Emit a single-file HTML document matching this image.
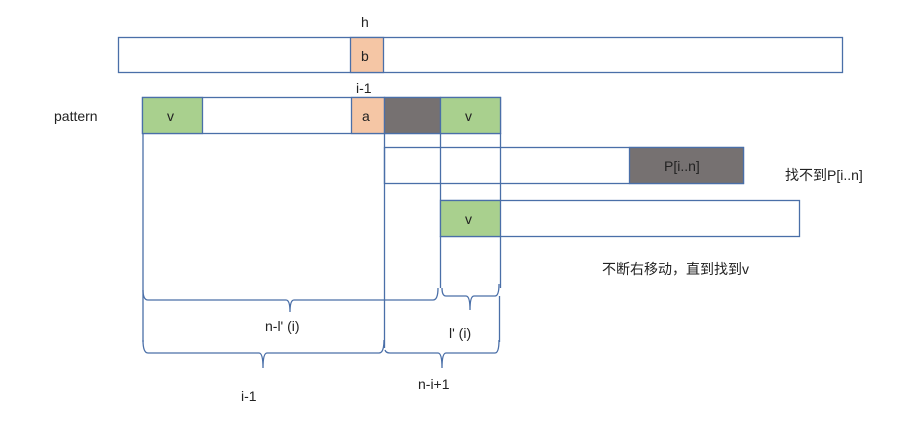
<!DOCTYPE html>
<html><head><meta charset="utf-8"><style>
body{margin:0;background:#fff}
text{font-family:"Liberation Sans","Noto Sans CJK SC",sans-serif;font-size:14px;fill:#222}
</style></head><body>
<svg width="906" height="430" xmlns="http://www.w3.org/2000/svg">
<g stroke="#4a6fa8" stroke-width="1.3" fill="none">
<rect x="118.5" y="37.5" width="724" height="35" fill="#fff"/>
<rect x="350.5" y="37.5" width="33" height="35" fill="#f5c6a5"/>
<rect x="142.5" y="97.5" width="358" height="36" fill="#fff"/>
<rect x="142.5" y="97.5" width="60" height="36" fill="#a9d08e"/>
<rect x="351.5" y="97.5" width="33" height="36" fill="#f5c6a5"/>
<rect x="384.5" y="97.5" width="56" height="36" fill="#767171"/>
<rect x="440.5" y="97.5" width="60" height="36" fill="#a9d08e"/>
<rect x="384.5" y="147.5" width="359" height="36" fill="#fff"/>
<rect x="629.5" y="147.5" width="114" height="36" fill="#767171"/>
<rect x="440.5" y="200.5" width="359" height="36" fill="#fff"/>
<rect x="440.5" y="200.5" width="60" height="36" fill="#a9d08e"/>
<line x1="143" y1="133" x2="143" y2="296"/>
<line x1="384.5" y1="133" x2="384.5" y2="348"/>
<line x1="440.5" y1="133" x2="440.5" y2="200"/>
<line x1="500.5" y1="133" x2="500.5" y2="200"/>
<line x1="440.5" y1="236" x2="440.5" y2="288"/>
<line x1="500.5" y1="236" x2="500.5" y2="288"/>
<!-- braces -->
<path d="M143 290 Q143 300 148 300 L286 300 Q290 300 290 312 Q290 300 294 300 L433 300 Q438 300 438 288"/>
<path d="M442 288 Q442 296 446 296 L466 296 Q470 296 470 310 Q470 296 474 296 L495 296 Q499 296 499 284"/>
<path d="M143 340 Q143 353 148 353 L259 353 Q263 353 263 368 Q263 353 267 353 L379 353 Q384 353 384 340"/>
<path d="M385 350 Q386 353 390 353 L438 353 Q442 353 442 368 Q442 353 446 353 L495 353 Q499 353 499 340"/>
<line x1="143" y1="296" x2="143" y2="342"/>
<line x1="499.5" y1="296" x2="499.5" y2="342"/>
</g>
<text x="361" y="27">h</text>
<text x="361" y="61">b</text>
<text x="356" y="93">i-1</text>
<text x="54" y="121">pattern</text>
<text x="167" y="121">v</text>
<text x="362" y="121">a</text>
<text x="465" y="121">v</text>
<text x="664" y="171">P[i..n]</text>
<text x="785" y="180">找不到P[i..n]</text>
<text x="465" y="224">v</text>
<text x="602" y="274">不断右移动，直到找到v</text>
<text x="265" y="331">n-l'   (i)</text>
<text x="449" y="338">l'  (i)</text>
<text x="241" y="401">i-1</text>
<text x="418" y="389">n-i+1</text>
</svg>
</body></html>
